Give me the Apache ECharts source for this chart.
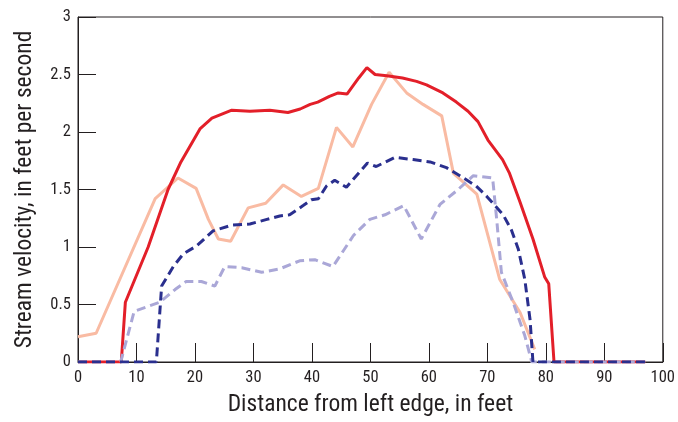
<!DOCTYPE html>
<html>
<head>
<meta charset="utf-8">
<script src="https://cdn.jsdelivr.net/npm/echarts@6/dist/echarts.min.js"></script>
<style>html,body{margin:0;padding:0;background:#fff}#c{width:678px;height:422px}</style>
</head>
<body>
<div id="c"></div>
<script>
var xTicks = [0,10,20,30,40,50,60,70,80,90,100];
var yTicks = [0,0.5,1,1.5,2,2.5,3];

var redX = [0,7.4,8.1,12,15.4,17.6,20.9,22.9,26.3,29.4,32.8,35.9,38,39.7,41,43,44.5,46,48,49.4,50.8,52.8,55.5,57.9,59.6,62.4,64.7,66.7,68.4,70.1,72.6,73.8,75.6,77.8,79.8,80.5,81.4,97];
var redY = [0,0,0.52,1.0,1.5,1.74,2.03,2.12,2.19,2.18,2.19,2.17,2.2,2.24,2.26,2.31,2.34,2.33,2.47,2.56,2.5,2.49,2.47,2.44,2.41,2.34,2.26,2.18,2.09,1.93,1.76,1.64,1.39,1.07,0.74,0.68,0,0];

var salmonX = [0,3.1,13.2,17.1,20.2,22.3,24,26.1,29.1,32.1,35.1,38.2,41.1,44.2,47,50.2,53.2,56.2,59,62.2,64.2,68.2,72.1,75.6,78.1];
var salmonY = [0.22,0.25,1.42,1.6,1.51,1.24,1.07,1.05,1.34,1.38,1.54,1.44,1.51,2.04,1.87,2.24,2.52,2.34,2.24,2.14,1.64,1.46,0.72,0.43,0.11];

var navyX = [0,13.4,14.3,16.3,18,20.3,23.1,26.3,29.4,32.3,34.5,36.2,38.5,39.9,41.1,42.5,43.9,45.9,49.5,51,54.2,57.3,60.2,63,65.3,68.1,69.9,72.7,74.1,75.3,76.4,77.3,77.8,97];
var navyY = [0,0,0.66,0.83,0.94,1.01,1.14,1.19,1.2,1.24,1.27,1.28,1.36,1.41,1.42,1.53,1.58,1.52,1.73,1.7,1.78,1.76,1.74,1.69,1.62,1.53,1.44,1.28,1.15,0.98,0.72,0.37,0,0];

var lavX = [0,7.3,9.6,14,16.6,18.5,21.1,23.4,25.1,28,31.4,34.5,37.9,40.5,43.6,47.1,49.9,52.5,55.7,58.7,61.9,65,67.6,70.9,71.6,72.4,74.4,76.4,77.6,97];
var lavY = [0,0,0.44,0.52,0.63,0.7,0.7,0.66,0.83,0.82,0.78,0.81,0.88,0.89,0.83,1.1,1.24,1.28,1.36,1.07,1.37,1.5,1.62,1.6,1.24,0.78,0.52,0.23,0,0];

function pairs(xs, ys){ return xs.map(function(x,i){ return [x, ys[i]]; }); }

var FONT = "'Roboto Condensed','DejaVu Sans Condensed','Liberation Sans Narrow',sans-serif";
var TXT = '#231f20';

var chart = echarts.init(document.getElementById('c'), null, {renderer:'canvas'});
chart.setOption({
  animation:false,
  backgroundColor:'#fff',
  grid:{left:78, right:15, top:17, bottom:59, show:true, borderColor:'#231f20', borderWidth:1, backgroundColor:'transparent'},
  xAxis:{
    type:'value', min:0, max:100, interval:10,
    name:'Distance from left edge, in feet', nameLocation:'middle', nameGap:31,
    nameTextStyle:{fontFamily:FONT, fontSize:23.5, color:TXT, verticalAlign:'top'},
    axisLine:{show:true, lineStyle:{color:'#231f20', width:1}},
    axisTick:{show:true, inside:true, length:19, lineStyle:{color:'#231f20', width:1}},
    axisLabel:{fontFamily:FONT, fontSize:16.5, color:TXT, margin:7},
    splitLine:{show:false}
  },
  yAxis:{
    type:'value', min:0, max:3, interval:0.5,
    name:'Stream velocity, in feet per second', nameLocation:'middle', nameGap:41, nameRotate:90,
    nameTextStyle:{fontFamily:FONT, fontSize:23.5, color:TXT},
    axisLine:{show:true, lineStyle:{color:'#231f20', width:1}},
    axisTick:{show:true, inside:true, length:18, lineStyle:{color:'#231f20', width:1}},
    axisLabel:{fontFamily:FONT, fontSize:16.5, color:TXT, margin:7},
    splitLine:{show:false}
  },
  series:[
    {type:'line', data:pairs(salmonX, salmonY), showSymbol:false, lineStyle:{color:'#f9bba3', width:3}, z:2},
    {type:'line', data:pairs(redX, redY), showSymbol:false, lineStyle:{color:'#e31f29', width:3}, z:3},
    {type:'line', data:pairs(lavX, lavY), showSymbol:false, lineStyle:{color:'#aaa7d7', width:3, type:[9,5]}, z:4},
    {type:'line', data:pairs(navyX, navyY), showSymbol:false, lineStyle:{color:'#2a2f8e', width:3, type:[9,5]}, z:5}
  ]
});
</script>
</body>
</html>
